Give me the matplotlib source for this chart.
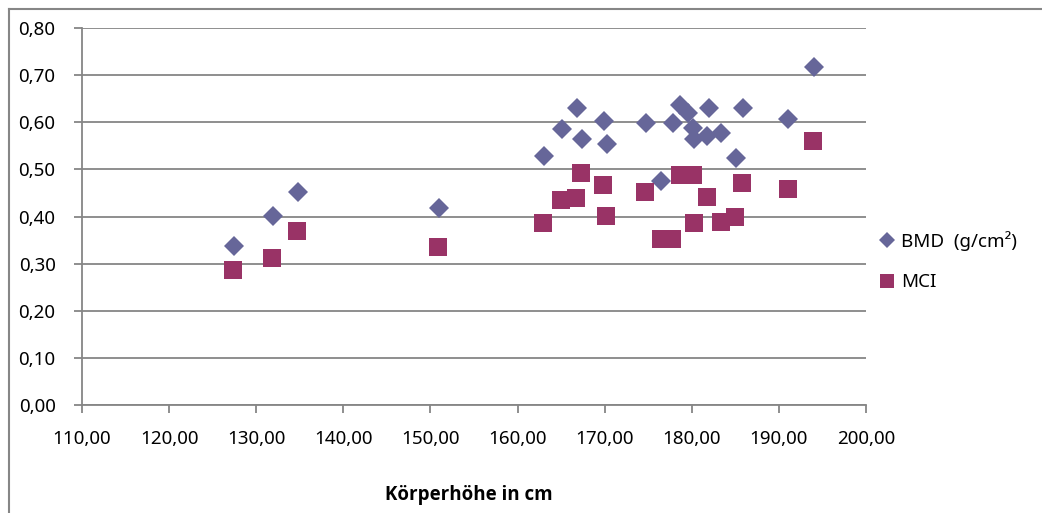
import matplotlib.pyplot as plt
from matplotlib.lines import Line2D
from matplotlib.ticker import FuncFormatter, MultipleLocator

plt.rcParams['font.family'] = ['Noto Sans', 'DejaVu Sans']

# Körperhöhe (cm) und Messwerte
bmd_height = [127.4, 131.9, 134.8, 151.0, 163.0, 165.1, 166.8, 167.4, 169.9, 170.3,
              174.7, 176.5, 177.8, 178.6, 179.6, 180.1, 180.3, 181.8, 182.0, 183.4,
              185.1, 185.9, 191.1, 194.0]
bmd = [0.337, 0.401, 0.451, 0.419, 0.529, 0.586, 0.631, 0.565, 0.603, 0.553,
       0.599, 0.476, 0.599, 0.637, 0.619, 0.587, 0.564, 0.570, 0.631, 0.578,
       0.525, 0.631, 0.607, 0.717]

mci_height = [127.3, 131.8, 134.7, 150.9, 162.9, 165.0, 166.7, 167.3, 169.8, 170.2,
              174.6, 176.5, 177.7, 178.7, 180.1, 180.2, 181.7, 183.3, 185.0, 185.8,
              191.0, 193.9]
mci = [0.287, 0.311, 0.369, 0.336, 0.386, 0.435, 0.439, 0.492, 0.467, 0.402,
       0.451, 0.352, 0.352, 0.488, 0.488, 0.386, 0.442, 0.389, 0.398, 0.472,
       0.459, 0.561]

fig = plt.figure(figsize=(10.42, 5.13), dpi=100)
ax = fig.add_axes([82 / 1042, 108 / 513, 784 / 1042, 377 / 513])

ax.plot(bmd_height, bmd, linestyle='none', marker='D', markersize=9.7,
        color='#666699', markeredgewidth=0, label='BMD  (g/cm²)', zorder=3)
ax.plot(mci_height, mci, linestyle='none', marker='s', markersize=13,
        color='#993366', markeredgewidth=0, label='MCI', zorder=3)

ax.set_xlim(110, 200)
ax.set_ylim(0, 0.8)
ax.xaxis.set_major_locator(MultipleLocator(10))
ax.yaxis.set_major_locator(MultipleLocator(0.1))
comma = FuncFormatter(lambda v, pos: f'{v:.2f}'.replace('.', ','))
ax.xaxis.set_major_formatter(comma)
ax.yaxis.set_major_formatter(comma)

grey = '#868686'
ax.grid(axis='y', color=grey, linewidth=1.3)
ax.set_axisbelow(True)
for side in ('top', 'right'):
    ax.spines[side].set_visible(False)
for side in ('left', 'bottom'):
    ax.spines[side].set_color(grey)
    ax.spines[side].set_linewidth(1.3)
ax.tick_params(axis='both', direction='out', length=6, width=1.3, color=grey,
               labelsize=13.5, labelcolor='black')
ax.tick_params(axis='y', pad=13)
ax.tick_params(axis='x', pad=12)

ax.set_xlabel('Körperhöhe in cm', fontsize=13.5, fontweight='bold',
              family=['Open Sans', 'DejaVu Sans'])
ax.xaxis.set_label_coords(0.494, -0.239)
ax.xaxis.label.set_va('center')

ax.legend(loc='center left', bbox_to_anchor=(1.008, 0.382), frameon=False,
          fontsize=13.5, handlelength=0.8, handletextpad=0.35, labelspacing=1.2,
          markerscale=0.8, borderaxespad=0)

# Rahmen um das Diagramm
fig.add_artist(Line2D([9 / 1042, 9 / 1042], [1 - 9 / 513, 0], transform=fig.transFigure,
                      color=grey, linewidth=1.5))
fig.add_artist(Line2D([9 / 1042, 1], [1 - 9 / 513, 1 - 9 / 513], transform=fig.transFigure,
                      color=grey, linewidth=1.5))

fig.savefig('out.png', dpi=100)
